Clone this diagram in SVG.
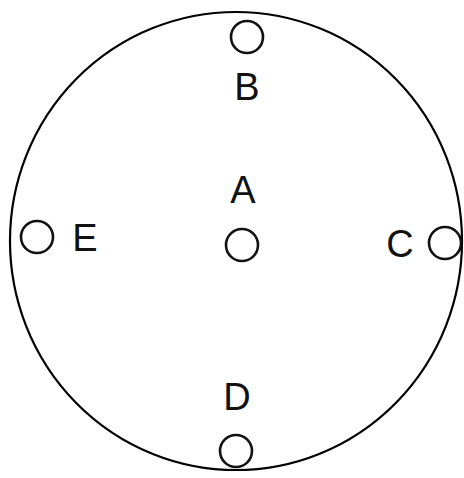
<svg xmlns="http://www.w3.org/2000/svg" width="464" height="478" viewBox="0 0 464 478">
<style>
.big{fill:none;stroke:#000;stroke-width:2.2}
.pt{fill:none;stroke:#111;stroke-width:2.6}
.lbl{font-family:"Liberation Sans",Arial,sans-serif;font-size:38px;fill:#111;text-anchor:middle}
</style>
<rect width="464" height="478" fill="#fff"/>
<g id="outline"><ellipse class="big" cx="236" cy="241" rx="226" ry="229"/></g>
<g id="connectors"></g>
<g id="A"><circle class="pt" cx="242" cy="245" r="16"/><text class="lbl" x="243" y="203">A</text></g>
<g id="B"><circle class="pt" cx="247" cy="37" r="16"/><text class="lbl" x="247" y="100">B</text></g>
<g id="C"><circle class="pt" cx="445" cy="243" r="16"/><text class="lbl" x="400" y="257">C</text></g>
<g id="D"><circle class="pt" cx="236" cy="451" r="16"/><text class="lbl" x="237" y="410">D</text></g>
<g id="E"><circle class="pt" cx="37" cy="237" r="16"/><text class="lbl" x="85" y="251">E</text></g>
</svg>
